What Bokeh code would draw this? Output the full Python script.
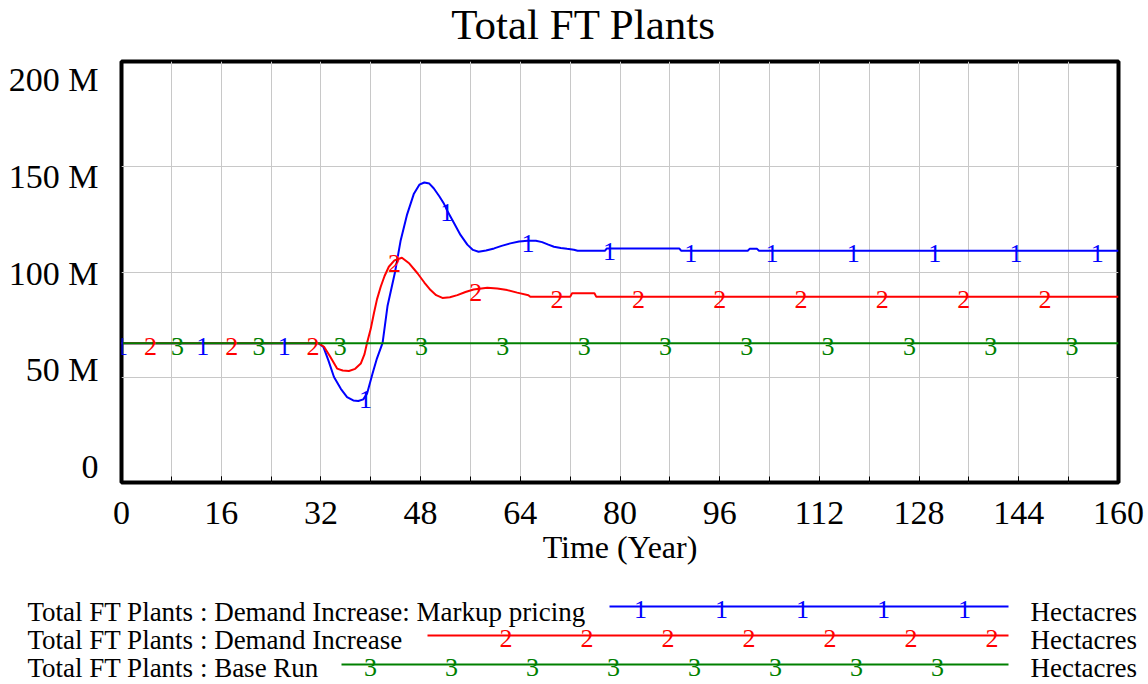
import numpy as np
from bokeh.plotting import figure
from bokeh.layouts import column
from bokeh.models import FixedTicker, CustomJSTickFormatter, Range1d
from bokeh.core.properties import value
from bokeh.embed import file_html
from bokeh.resources import INLINE

# ---------------- data ----------------
TITLE = "Total FT Plants"
X_LABEL = "Time (Year)"
UNITS = "Hectacres"
SERIES_NAMES = [
    "Total FT Plants : Demand Increase: Markup pricing",
    "Total FT Plants : Demand Increase",
    "Total FT Plants : Base Run",
]
SERIES_IDS = ["1", "2", "3"]
X_TICKS = [0, 16, 32, 48, 64, 80, 96, 112, 128, 144, 160]
Y_TICK_LABELS = ["0", "50 M", "100 M", "150 M", "200 M"]
Y_GRID_VALUES = [0, 50, 100, 150, 200]  # millions of hectares

# series 1 : Demand Increase: Markup pricing (millions)
markup_t = [0, 31.6, 32.4, 33.2, 34.1, 35.2, 36.2, 37.2, 38.0, 38.8, 39.4, 40.3,
            41.0, 41.9, 42.7, 43.9, 44.8, 45.8, 46.9, 47.8, 48.6, 49.4, 50.1,
            51.0, 51.7, 52.3, 53.4, 54.4, 55.5, 56.4, 57.3, 58.5, 59.8, 61.0,
            62.4, 63.8, 65.2, 66.5, 67.5, 68.5, 69.4, 70.5, 71.5, 72.6, 73.2,
            77.6, 77.9, 89.5, 89.8, 100.5, 100.8, 102.0, 102.3, 160]
markup_v = [66.2, 66.2, 64.4, 58.0, 50.1, 44.5, 40.6, 39.0, 38.7, 39.5, 42.2, 51.9,
            59.0, 66.3, 84.0, 100.0, 115.0, 127.0, 137.0, 141.5, 142.5, 142.0, 139.8,
            136.0, 132.7, 129.0, 123.0, 117.6, 113.0, 110.5, 109.6, 110.2, 111.2, 112.4,
            113.6, 114.5, 114.9, 114.8, 114.2, 113.0, 112.0, 111.4, 111.0, 110.6, 110.1,
            110.1, 111.2, 111.2, 110.1, 110.1, 111.0, 111.0, 110.1, 110.1]

# series 2 : Demand Increase (millions)
demand_t = [0, 31.6, 32.5, 33.5, 34.6, 35.5, 36.5, 37.5, 38.4, 39.0, 39.4, 40.0,
            40.5, 41.0, 41.6, 42.2, 42.9, 43.8, 45.0, 46.2, 47.5, 48.6, 49.6,
            50.5, 51.5, 52.7, 53.9, 55.2, 56.5, 58.7, 60.3, 61.9, 63.5, 65.3,
            65.6, 72.0, 72.3, 75.9, 76.2, 160]
demand_v = [66.2, 66.2, 64.5, 59.7, 54.1, 53.2, 53.0, 54.0, 56.5, 61.0, 66.3, 73.0,
            80.3, 87.0, 93.0, 98.0, 102.5, 105.5, 106.8, 104.0, 99.4, 95.0, 91.4,
            89.0, 87.7, 88.0, 89.0, 90.5, 91.7, 92.5, 92.2, 91.4, 90.2, 89.0,
            88.2, 88.2, 89.9, 89.9, 88.2, 88.2]

# series 3 : Base Run (millions)
base_t = [0, 160]
base_v = [66.2, 66.2]

SERIES_T = [markup_t, demand_t, base_t]
SERIES_V = [markup_v, demand_v, base_v]
COLORS = ["#0000ff", "#ff0000", "#008000"]

# ---------------- style / layout ----------------
FONT = "Liberation Serif"
W = 1148
TITLE_H = 55
MAIN_H = 537
LEG_H = 92
MARKER_STEP = 13.05            # years between series-number labels
MARKER_START = [0.0, 4.65, 9.0]


def blank(height):
    f = figure(width=W, height=height, x_range=Range1d(0, W), y_range=Range1d(height, 0),
               output_backend="svg", toolbar_location=None, min_border=0)
    f.axis.visible = False
    f.grid.visible = False
    f.outline_line_color = None
    f.background_fill_color = "white"
    f.border_fill_color = "white"
    f.frame_align = False
    return f


# ---------------- title ----------------
tf = blank(TITLE_H)
tf.text(x=[583], y=[24], text=[TITLE], text_color="black", text_font=value(FONT),
        text_font_size="43px", text_align="center", text_baseline="middle")

# ---------------- main chart ----------------
p = figure(width=W, height=MAIN_H, x_range=Range1d(0, 160), y_range=Range1d(0, 200),
           output_backend="svg", toolbar_location=None,
           min_border_left=121, min_border_right=30, min_border_top=6,
           min_border_bottom=110)
p.frame_align = False
p.outline_line_color = "black"
p.outline_line_width = 4
p.background_fill_color = "white"
p.border_fill_color = "white"

# grid
p.xgrid.ticker = FixedTicker(ticks=list(range(0, 161, 8)))
p.ygrid.ticker = FixedTicker(ticks=Y_GRID_VALUES)
p.grid.grid_line_color = "#c8c8c8"
p.grid.grid_line_width = 1

# x axis
xa = p.xaxis[0]
xa.ticker = FixedTicker(ticks=X_TICKS, minor_ticks=list(range(0, 161, 8)))
xa.axis_line_color = None
xa.major_tick_in = 6
xa.major_tick_out = 0
xa.minor_tick_in = 6
xa.minor_tick_out = 0
xa.major_tick_line_color = "black"
xa.minor_tick_line_color = "black"
xa.major_label_text_font = FONT
xa.major_label_text_font_size = "34px"
xa.major_label_text_color = "black"
xa.major_label_standoff = 19
xa.axis_label = X_LABEL
xa.axis_label_text_font = FONT
xa.axis_label_text_font_size = "32px"
xa.axis_label_text_font_style = "normal"
xa.axis_label_text_color = "black"
xa.axis_label_standoff = 2

# y axis: labels spread evenly inside the range (Vensim style)
ya = p.yaxis[0]
label_pos = [round(v, 2) for v in np.linspace(7.6, 191.4, len(Y_TICK_LABELS))]
ya.ticker = FixedTicker(ticks=label_pos, minor_ticks=[])
ya.formatter = CustomJSTickFormatter(args=dict(labels=Y_TICK_LABELS),
                                     code="return labels[index];")
ya.axis_line_color = None
ya.major_tick_line_color = None
ya.minor_tick_line_color = None
ya.major_tick_in = 0
ya.major_tick_out = 0
ya.major_label_text_font = FONT
ya.major_label_text_font_size = "34px"
ya.major_label_text_color = "black"
ya.major_label_standoff = 23

# series lines + number markers
for t, v, c in zip(SERIES_T, SERIES_V, COLORS):
    p.line(t, v, line_color=c, line_width=2)
for t, v, c, sid, st in zip(SERIES_T, SERIES_V, COLORS, SERIES_IDS, MARKER_START):
    mt = np.arange(st, 160 + 1e-9, MARKER_STEP)
    mv = np.interp(mt, t, v)
    p.text(x=mt, y=mv, text=[sid] * len(mt), text_color=c,
           text_font=value(FONT), text_font_size="26px",
           text_align="center", text_baseline="middle", y_offset=3)

# ---------------- legend panel ----------------
leg = blank(LEG_H)
row_text_y = [19, 47, 75]
row_line_y = [14, 43, 72]
line_x0 = [609, 427, 341]
line_x1 = 1008
num_x0 = [640, 505.5, 370]
num_step = 81

leg.text(x=[27] * 3, y=row_text_y, text=SERIES_NAMES, text_color="black",
         text_font=value(FONT), text_font_size="27px",
         text_align="left", text_baseline="middle")
leg.text(x=[1030] * 3, y=row_text_y, text=[UNITS] * 3, text_color="black",
         text_font=value(FONT), text_font_size="27px",
         text_align="left", text_baseline="middle")
for i in range(3):
    leg.line([line_x0[i], line_x1], [row_line_y[i]] * 2, line_color=COLORS[i], line_width=2)
    nx = np.arange(num_x0[i], line_x1, num_step)
    leg.text(x=nx, y=[row_line_y[i]] * len(nx), text=[SERIES_IDS[i]] * len(nx),
             text_color=COLORS[i], text_font=value(FONT), text_font_size="26px",
             text_align="center", text_baseline="middle", y_offset=3)

layout = column(tf, p, leg, spacing=0)
open("out.html", "w").write(file_html(layout, INLINE))
